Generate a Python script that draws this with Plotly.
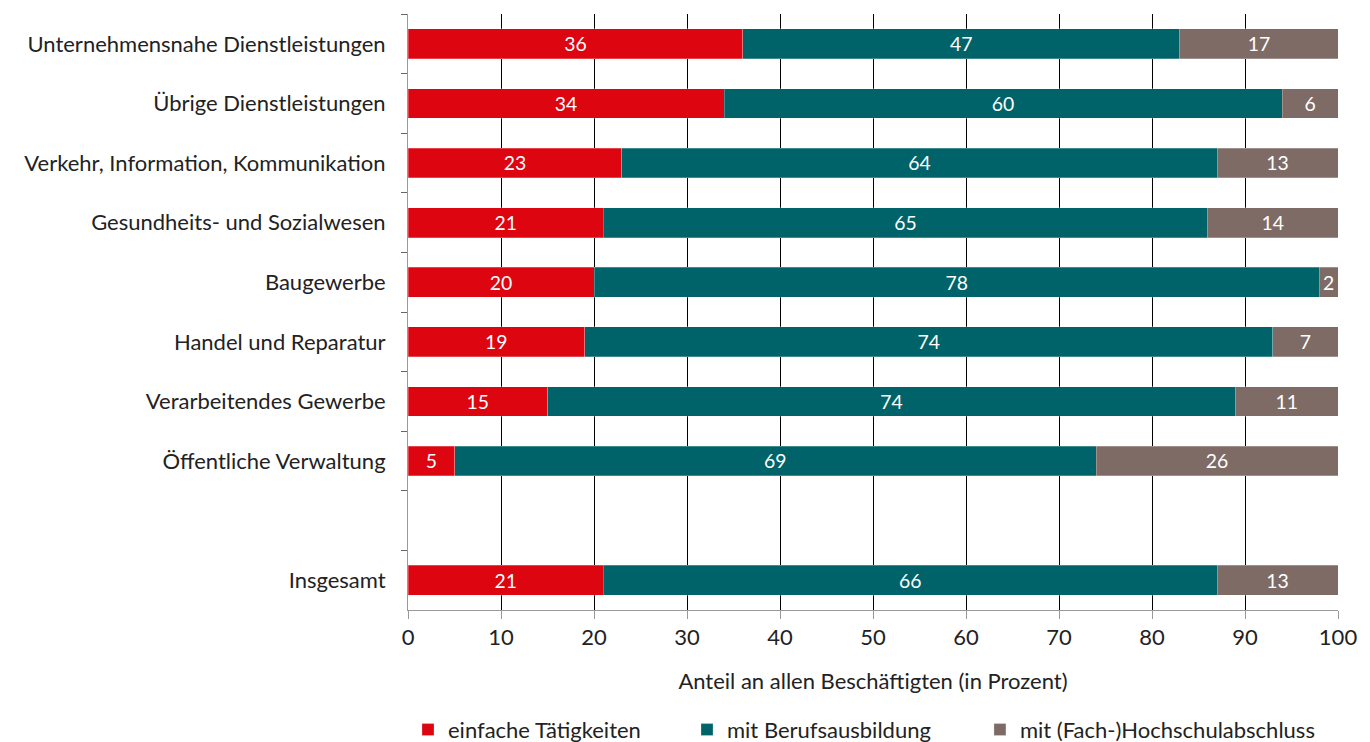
import plotly.graph_objects as go

categories = ["Unternehmensnahe Dienstleistungen", "Übrige Dienstleistungen",
              "Verkehr, Information, Kommunikation", "Gesundheits- und Sozialwesen",
              "Baugewerbe", "Handel und Reparatur", "Verarbeitendes Gewerbe",
              "Öffentliche Verwaltung", " ", "Insgesamt"]
einfach = [36, 34, 23, 21, 20, 19, 15, 5, None, 21]
beruf = [47, 60, 64, 65, 78, 74, 74, 69, None, 66]
hochschule = [17, 6, 13, 14, 2, 7, 11, 26, None, 13]
series_names = ["einfache Tätigkeiten", "mit Berufsausbildung", "mit (Fach-)Hochschulabschluss"]
colors = ["#DC0510", "#00636A", "#7F6B66"]
x_ticks = list(range(0, 101, 10))

FONT = "Lato"
FS = 22
legend_ids = ["legend", "legend2", "legend3"]
legend_x = [0.000, 0.300, 0.615]

fig = go.Figure()
for name, vals, col, lid in zip(series_names, [einfach, beruf, hochschule], colors, legend_ids):
    fig.add_trace(go.Bar(
        y=categories, x=vals, name=name, orientation="h", legend=lid,
        marker=dict(color=col, line=dict(color="rgba(255,255,255,0.5)", width=0.5)),
        text=[("" if v is None else str(v)) for v in vals],
        textposition="inside", insidetextanchor="middle", textangle=0,
        textfont=dict(color="white", size=FS, family=FONT),
        width=0.5,
    ))

legend_common = dict(orientation="h", y=-0.201, yanchor="middle", xanchor="left",
                     font=dict(size=FS, family=FONT), itemwidth=30,
                     bgcolor="rgba(0,0,0,0)")
fig.update_layout(
    barmode="stack",
    width=1362, height=734,
    margin=dict(l=400, r=32, t=6, b=132, autoexpand=False),
    plot_bgcolor="white", paper_bgcolor="white",
    font=dict(family=FONT, size=FS, color="#222"),
    uniformtext=dict(minsize=10, mode="show"),
    legend=dict(x=legend_x[0], **legend_common),
    legend2=dict(x=legend_x[1], **legend_common),
    legend3=dict(x=legend_x[2], **legend_common),
    showlegend=True,
)
fig.update_xaxes(
    range=[0, 100], tickvals=x_ticks, showgrid=True, gridcolor="#000", gridwidth=1,
    showline=True, linecolor="#999", linewidth=1, ticks="outside", ticklen=8,
    tickcolor="#999", zeroline=False, automargin=False,
    title=dict(text="Anteil an allen Beschäftigten (in Prozent)", font=dict(size=FS, family=FONT), standoff=24),
    tickfont=dict(size=FS, family=FONT),
)
fig.update_yaxes(
    categoryorder="array", categoryarray=categories, autorange="reversed",
    showline=True, linecolor="#999", linewidth=1, ticks="outside", ticklen=6,
    tickcolor="#666", tickson="boundaries", showgrid=False, automargin=False,
    tickfont=dict(size=FS, family=FONT), ticklabelstandoff=17,
)
fig.write_html("out.html")
